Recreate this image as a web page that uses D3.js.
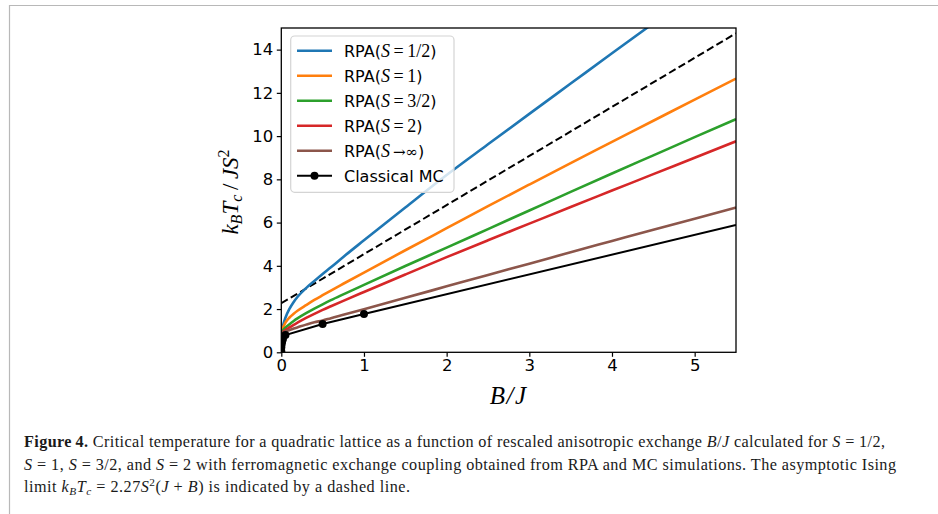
<!DOCTYPE html>
<html><head><meta charset="utf-8">
<script src="https://cdn.jsdelivr.net/npm/d3@7"></script>
<style>body{margin:0;background:#fff;} svg{display:block;}</style>
</head><body><svg id="c" width="938" height="514"></svg>
<script>
// ---------------- data ----------------
const bGrid   = [0, 0.01, 0.02, 0.05, 0.1, 0.15, 0.2, 0.3, 0.4, 0.5, 0.6, 0.75, 1, 1.5, 2, 2.5, 3, 3.5, 4, 4.5, 5, 5.5];
const rpaHalf = [0.85, 1.05, 1.22, 1.6, 2.02, 2.33, 2.58, 2.97, 3.3, 3.62, 3.93, 4.41, 5.18, 6.7, 8.2, 9.62, 11.03, 12.43, 13.83, 15.22, 16.6, 18.0];
const rpaOne  = [0.85, 1.02, 1.13, 1.37, 1.61, 1.78, 1.93, 2.18, 2.42, 2.64, 2.855, 3.17, 3.69, 4.72, 5.74, 6.76, 7.76, 8.75, 9.73, 10.71, 11.69, 12.66];
const rpaThreeHalf = [0.85, 0.96, 1.02, 1.14, 1.3, 1.45, 1.58, 1.81, 2.02, 2.22, 2.41, 2.68, 3.12, 3.99, 4.84, 5.70, 6.56, 7.42, 8.27, 9.11, 9.95, 10.78];
const rpaTwo  = [0.85, 0.9, 0.94, 1.03, 1.15, 1.27, 1.38, 1.59, 1.78, 1.96, 2.13, 2.38, 2.79, 3.6, 4.4, 5.18, 5.95, 6.72, 7.48, 8.24, 9.0, 9.76];
const rpaInf  = [0.85, 0.88, 0.91, 0.96, 1.03, 1.1, 1.16, 1.28, 1.39, 1.47, 1.58, 1.735, 1.995, 2.52, 3.05, 3.58, 4.1, 4.63, 5.15, 5.67, 6.18, 6.7];
const mcB     = [0, 0.001, 0.005, 0.01, 0.02, 0.05, 0.5, 1.0];
const mcT     = [0.05, 0.25, 0.4, 0.5, 0.62, 0.8, 1.31, 1.77];
const mcExtB  = [1.0, 5.5];
const mcExtT  = [1.77, 5.89];
const isingB  = [0, 5.5];
const isingT  = [2.27, 14.755];
const xTicks  = [0, 1, 2, 3, 4, 5];
const yTicks  = [0, 2, 4, 6, 8, 10, 12, 14];
const xDomain = [0, 5.5];
const yDomain = [0, 15];
const legendLabels = [
  [["RPA(", "t"], ["S", "mi"], ["\u2009=\u2009", "m"], ["1/2", "m"], [")", "t"]],
  [["RPA(", "t"], ["S", "mi"], ["\u2009=\u2009", "m"], ["1", "m"], [")", "t"]],
  [["RPA(", "t"], ["S", "mi"], ["\u2009=\u2009", "m"], ["3/2", "m"], [")", "t"]],
  [["RPA(", "t"], ["S", "mi"], ["\u2009=\u2009", "m"], ["2", "m"], [")", "t"]],
  [["RPA(", "t"], ["S", "mi"], ["\u2009\u2192", "ms"], ["\u221E", "ms"], [")", "t"]],
  [["Classical MC", "t"]]
];
const captionLines = [
  [["Figure\u20094.", "b"], ["  Critical temperature for a quadratic lattice as a function of rescaled anisotropic exchange ", "r"], ["B", "i"], ["/", "r"], ["J", "i"], [" calculated for ", "r"], ["S", "i"], [" = 1/2,", "r"]],
  [["S", "i"], [" = 1, ", "r"], ["S", "i"], [" = 3/2, and ", "r"], ["S", "i"], [" = 2 with ferromagnetic exchange coupling obtained from RPA and MC simulations. The asymptotic Ising", "r"]],
  [["limit ", "r"], ["k", "i"], ["B", "sub"], ["T", "i"], ["c", "sub"], [" = 2.27", "r"], ["S", "i"], ["2", "sup"], ["(", "r"], ["J", "i"], [" + ", "r"], ["B", "i"], [")", "r"], [" is indicated by a dashed line.", "r"]]
];

// ---------------- styles / layout ----------------
const colors = ["#1f77b4", "#ff7f0e", "#2ca02c", "#d62728", "#8c564b"];
const W = 938, H = 514;
const plot = {l: 281.3, r: 736, t: 28, b: 352.3};
const sansFont = "'DejaVu Sans', sans-serif";
const mathFont = "'Liberation Serif', 'DejaVu Serif', serif";
const symFont = "'DejaVu Serif', serif";
const capFont = "'Liberation Serif', serif";

const svg = d3.select("#c");
svg.append("rect").attr("width", W).attr("height", H).attr("fill", "#fff");

// outer figure frame
svg.append("path").attr("d", `M9.5,${H} L9.5,5.5 L${W},5.5`).attr("fill", "none").attr("stroke", "#b8b8b8").attr("stroke-width", 1.2);

const x = d3.scaleLinear().domain(xDomain).range([plot.l, plot.r]);
const y = d3.scaleLinear().domain(yDomain).range([plot.b, plot.t]);

svg.append("clipPath").attr("id", "clip").append("rect")
  .attr("x", plot.l).attr("y", plot.t).attr("width", plot.r - plot.l).attr("height", plot.b - plot.t);

const g = svg.append("g").attr("clip-path", "url(#clip)");
const line = d3.line().x(d => x(d[0])).y(d => y(d[1]));
const smooth = d3.line().x(d => x(d[0])).y(d => y(d[1])).curve(d3.curveMonotoneX);

// Ising asymptote (dashed)
g.append("path").attr("d", line(d3.zip(isingB, isingT)))
  .attr("fill", "none").attr("stroke", "#000").attr("stroke-width", 2).attr("stroke-dasharray", "7.5,3.5");

// RPA series
const rpa = [rpaHalf, rpaOne, rpaThreeHalf, rpaTwo, rpaInf];
rpa.forEach((s, i) => {
  g.append("path").attr("d", smooth(d3.zip(bGrid, s)))
    .attr("fill", "none").attr("stroke", colors[i]).attr("stroke-width", 2.6)
    .attr("stroke-linejoin", "round");
});

// Classical MC
g.append("path").attr("d", line(d3.zip(mcExtB, mcExtT)))
  .attr("fill", "none").attr("stroke", "#000").attr("stroke-width", 2);
g.append("path").attr("d", line(d3.zip(mcB, mcT)))
  .attr("fill", "none").attr("stroke", "#000").attr("stroke-width", 2);
g.selectAll("circle.mc").data(d3.zip(mcB, mcT)).join("circle").attr("class", "mc")
  .attr("cx", d => x(d[0])).attr("cy", d => y(d[1])).attr("r", 4).attr("fill", "#000");

// axes
const xAxis = d3.axisBottom(x).tickValues(xTicks).tickSize(4.5).tickPadding(2.5).tickFormat(d3.format("d"));
const yAxis = d3.axisLeft(y).tickValues(yTicks).tickSize(4.5).tickPadding(3.5).tickFormat(d3.format("d"));
const gx = svg.append("g").attr("transform", `translate(0,${plot.b})`).call(xAxis);
const gy = svg.append("g").attr("transform", `translate(${plot.l},0)`).call(yAxis);
[gx, gy].forEach(a => {
  a.select(".domain").remove();
  a.selectAll(".tick line").attr("stroke", "#000").attr("stroke-width", 1.2);
  a.selectAll(".tick text").attr("font-family", sansFont).attr("font-size", 16.5).attr("fill", "#000");
});
svg.append("rect").attr("x", plot.l).attr("y", plot.t).attr("width", plot.r - plot.l).attr("height", plot.b - plot.t)
  .attr("fill", "none").attr("stroke", "#000").attr("stroke-width", 1.3);

// axis labels
svg.append("text").attr("x", (plot.l + plot.r) / 2).attr("y", 404).attr("text-anchor", "middle")
  .attr("font-family", mathFont).attr("font-style", "italic").attr("font-size", 25)
  .attr("letter-spacing", 1.5).text("B/J");

const yl = svg.append("text").attr("transform", "translate(238,192) rotate(-90)").attr("text-anchor", "middle")
  .attr("font-family", mathFont).attr("font-style", "italic").attr("font-size", 23);
yl.append("tspan").text("k");
yl.append("tspan").attr("font-size", 16).attr("dy", 4).text("B");
yl.append("tspan").attr("dy", -4).text("T");
yl.append("tspan").attr("font-size", 16).attr("dy", 4).text("c");
yl.append("tspan").attr("dy", -4).attr("font-style", "normal").text("\u2009/\u2009");
yl.append("tspan").text("JS");
yl.append("tspan").attr("font-size", 16).attr("font-style", "normal").attr("dy", -9).text("2");

// legend
const lg = svg.append("g");
lg.append("rect").attr("x", 290.7).attr("y", 36).attr("width", 163.3).attr("height", 156.3).attr("rx", 4)
  .attr("fill", "#fff").attr("fill-opacity", 0.8).attr("stroke", "#d4d4d4").attr("stroke-width", 1.2);
const rowY = d3.range(6).map(i => 50.7 + i * 25);
legendLabels.forEach((parts, i) => {
  const cy = rowY[i];
  const col = i < 5 ? colors[i] : "#000";
  lg.append("line").attr("x1", 297).attr("x2", 332).attr("y1", cy).attr("y2", cy)
    .attr("stroke", col).attr("stroke-width", i < 5 ? 2.6 : 2);
  if (i === 5) lg.append("circle").attr("cx", 314.5).attr("cy", cy).attr("r", 4).attr("fill", "#000");
  const t = lg.append("text").attr("x", 344).attr("y", cy + 6).attr("font-size", 16).attr("fill", "#000");
  parts.forEach(([s, k]) => {
    const ts = t.append("tspan").text(s);
    if (k === "t") ts.attr("font-family", sansFont);
    else if (k === "ms") ts.attr("font-family", symFont).attr("font-size", 15);
    else {
      ts.attr("font-family", mathFont).attr("font-size", 18);
      if (k === "mi") ts.attr("font-style", "italic");
    }
  });
});

// caption
const capX = 24, capY = [447, 469.5, 491.5], capLen = [861, 872, 386];
captionLines.forEach((parts, li) => {
  const t = svg.append("text").attr("x", capX).attr("y", capY[li])
    .attr("font-family", capFont).attr("font-size", 15).attr("fill", "#1a1a1a");
  let shift = 0;
  const spans = [];
  parts.forEach(([s, k]) => {
    const ts = t.append("tspan").text(s);
    let target = 0;
    if (k === "b") ts.attr("font-weight", "bold");
    if (k === "i") ts.attr("font-style", "italic");
    if (k === "sub") { ts.attr("font-style", "italic"); target = 3; }
    if (k === "sup") { target = -6; }
    if (target !== shift) { ts.attr("dy", target - shift); shift = target; }
    spans.push([ts, k]);
  });
  const nat = t.node().getComputedTextLength();
  const fs = Math.min(16.2, 15 * capLen[li] / nat);
  t.attr("font-size", fs);
  spans.forEach(([ts, k]) => { if (k === "sub" || k === "sup") ts.attr("font-size", fs * 0.7); });
  t.attr("textLength", capLen[li]).attr("lengthAdjust", "spacing");
});
</script></body></html>
